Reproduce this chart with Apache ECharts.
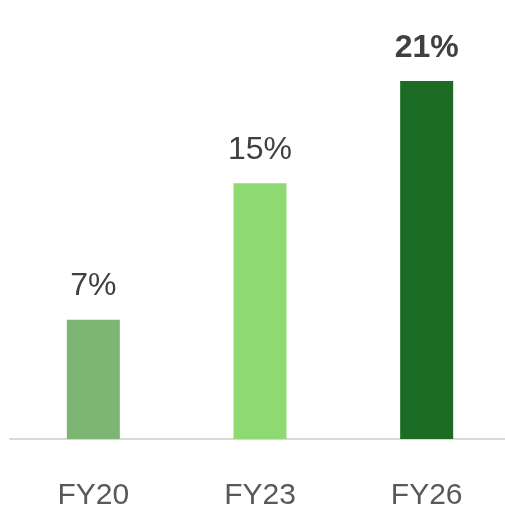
<!DOCTYPE html>
<html>
<head>
    <meta charset="utf-8">
    <title>FY chart</title>
    <script src="https://cdn.jsdelivr.net/npm/echarts@6/dist/echarts.min.js"></script>
    <style>
        html, body { margin: 0; padding: 0; background: #fff; }
        #chart { width: 505px; height: 512px; }
    </style>
</head>
<body>
<div id="chart"></div>
<script>
    // data
    var years = ['FY20', 'FY23', 'FY26'];
    var shares = [7, 15, 21];
    var barColors = ['#7db572', '#8fd972', '#1b6b24'];

    var myChart = echarts.init(document.getElementById('chart'));

    var barData = shares.map(function (v, i) {
        var item = { value: v, itemStyle: { color: barColors[i] } };
        if (i === shares.length - 1) {
            item.label = { fontWeight: 'bold' };
        }
        return item;
    });

    myChart.setOption({
        animation: false,
        grid: { left: 10, width: 500, top: 81, bottom: 73, outerBoundsMode: 'none' },
        xAxis: {
            type: 'category',
            data: years,
            axisLine: { lineStyle: { color: '#d9d9d9', width: 2 } },
            axisTick: { show: false },
            axisLabel: {
                color: '#595959',
                fontSize: 30,
                fontFamily: 'Liberation Sans',
                margin: 42
            }
        },
        yAxis: {
            type: 'value',
            min: 0,
            max: 21,
            show: false
        },
        series: [{
            type: 'bar',
            barWidth: 53,
            data: barData,
            label: {
                show: true,
                position: 'top',
                distance: 17,
                formatter: '{c}%',
                color: '#404040',
                fontSize: 32,
                fontFamily: 'Liberation Sans'
            }
        }]
    });
</script>
</body>
</html>
